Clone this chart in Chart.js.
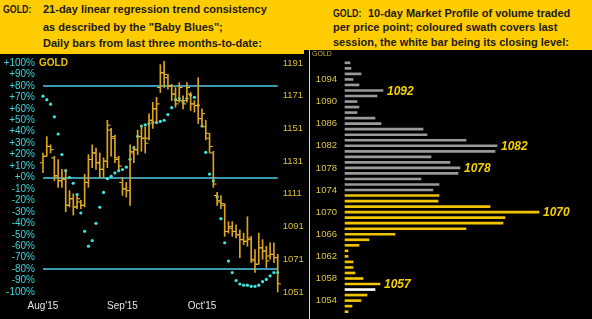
<!DOCTYPE html>
<html>
<head>
<meta charset="utf-8">
<script src="https://cdn.jsdelivr.net/npm/chart.js@4.4.1/dist/chart.umd.min.js"></script>
<style>
  html, body { margin: 0; padding: 0; background: #000; width: 592px; height: 319px; overflow: hidden;
    font-family: "Liberation Sans", Arial, sans-serif; }
  .hdr { position: absolute; background: #ffcc00; }
  .t { position: absolute; font-weight: bold; font-size: 11px; line-height: 12px; color: #1b1b1b; white-space: nowrap; }
  .g { transform: scaleX(0.8); transform-origin: left center; }
  .lbl { position: absolute; white-space: nowrap; }
  canvas { position: absolute; }
</style>
</head>
<body>
<div class="hdr" style="left:0;top:0;width:592px;height:50px"></div>
<div class="hdr" style="left:0;top:50px;width:304px;height:4px"></div>

<div class="t g" style="left:3px;top:3px">GOLD:</div>
<div class="t" style="left:43px;top:3px">21-day linear regression trend consistency</div>
<div class="t" style="left:43px;top:20.5px">as described by the "Baby Blues";</div>
<div class="t" style="left:43px;top:37px">Daily bars from last three months-to-date:</div>

<div class="t g" style="left:333px;top:6.5px">GOLD:</div>
<div class="t" style="left:368px;top:6.5px">10-day Market Profile of volume traded</div>
<div class="t" style="left:333px;top:21px">per price point; coloured swath covers last</div>
<div class="t" style="left:333px;top:35.5px">session, the white bar being its closing level:</div>

<canvas id="left" width="304" height="265" style="left:0;top:54px"></canvas>
<div style="position:absolute;left:309px;top:50px;width:1px;height:269px;background:#d8d8d8"></div>
<canvas id="right" width="282" height="266" style="left:310px;top:53px"></canvas>

<div class="lbl" style="left:39px;top:57px;font-size:10px;font-weight:bold;color:#e8c200">GOLD</div>
<div class="lbl" style="left:312px;top:50px;font-size:7px;color:#c8b040">GOLD</div>

<script>
// left panel: daily bars + Baby Blues
const PCT_TICKS = [100, 90, 80, 70, 60, 50, 40, 30, 20, 10, 0, -10, -20, -30, -40, -50, -60, -70, -80, -90, -100];
const PCT_LEVELS = [80, 0, -80];
const PRICE_TICKS = [1191, 1171, 1151, 1131, 1111, 1091, 1071, 1051];
const MONTH_LABELS = ["Aug'15", "Sep'15", "Oct'15"];
const MONTH_AT = [0, 21, 42];

const HIGH = [1136, 1146, 1141, 1134, 1132, 1126, 1126, 1113, 1111, 1110, 1107, 1123, 1135, 1141, 1139, 1136,
  1133, 1156, 1151, 1147, 1134, 1121, 1118, 1141, 1140, 1150, 1153, 1152, 1160, 1167, 1170, 1190,
  1192, 1184, 1178, 1176, 1179, 1171, 1179, 1173, 1168, 1182, 1163, 1156, 1148, 1137, 1112, 1110,
  1105, 1094, 1094, 1092, 1089, 1087, 1097, 1085, 1077, 1087, 1083, 1079, 1081, 1081, 1074];
const LOW = [1124, 1134, 1136, 1119, 1115, 1115, 1100, 1103, 1098, 1102, 1102, 1103, 1115, 1127, 1126, 1121,
  1121, 1127, 1134, 1130, 1126, 1110, 1109, 1104, 1130, 1135, 1137, 1136, 1144, 1151, 1155, 1173,
  1176, 1175, 1168, 1164, 1167, 1163, 1167, 1162, 1161, 1154, 1152, 1144, 1136, 1115, 1104, 1102,
  1085, 1087, 1085, 1084, 1072, 1080, 1079, 1069, 1063, 1068, 1071, 1066, 1071, 1069, 1051];
const OPEN = [1130, 1134, 1140, 1133, 1122, 1119, 1120, 1104, 1108, 1103, 1106, 1104, 1118, 1132, 1136, 1130,
  1126, 1131, 1150, 1145, 1132, 1118, 1114, 1113, 1136, 1138, 1146, 1145, 1145, 1156, 1163, 1176,
  1185, 1182, 1177, 1172, 1168, 1168, 1168, 1172, 1166, 1165, 1157, 1152, 1145, 1136, 1110, 1106,
  1104, 1088, 1090, 1088, 1086, 1083, 1082, 1083, 1070, 1068, 1078, 1076, 1073, 1074, 1072];
const CLOSE = [1134, 1140, 1138, 1122, 1119, 1120, 1104, 1108, 1103, 1108, 1104, 1118, 1132, 1136, 1130, 1126,
  1131, 1153, 1146, 1133, 1128, 1114, 1113, 1137, 1138, 1146, 1145, 1142, 1156, 1163, 1166, 1185,
  1184, 1177, 1172, 1166, 1176, 1166, 1176, 1166, 1165, 1157, 1160, 1148, 1140, 1117, 1107, 1105,
  1088, 1091, 1088, 1086, 1083, 1082, 1084, 1071, 1068, 1078, 1076, 1070, 1074, 1072, 1056];
const BLUES = [71, 68, 64, 53, 38, 20, 6, 0, -5, -15, -31, -47, -60, -55, -40, -26,
  -13, -1, 1, 4, 6, 7, 9, 16, 26, 36, 45, 46, 47, 48, 48, 49,
  50, 55, 61, 68, 69, 66, 69, 72, 70, 63, 45, 22, 3, -3, -17, -36,
  -57, -73, -83, -90, -93, -94, -94, -95, -95, -94, -91, -89, -86, -83, -83];

// right panel: 10-day market profile
const PROFILE_PRICE = [1097, 1096, 1095, 1094, 1093, 1092, 1091, 1090, 1089, 1088, 1087, 1086, 1085, 1084, 1083,
  1082, 1081, 1080, 1079, 1078, 1077, 1076, 1075, 1074, 1073, 1072, 1071, 1070, 1069, 1068, 1067,
  1066, 1065, 1064, 1063, 1062, 1061, 1060, 1059, 1058, 1057, 1056, 1055, 1054, 1053, 1052];
const PROFILE_VOL = [5, 6, 16, 8, 14, 38, 32, 12, 14, 12, 30, 36, 78, 82, 121,
  152, 150, 86, 105, 115, 113, 76, 94, 88, 94, 93, 145, 194, 160, 158, 121,
  50, 24, 14, 3, 3, 8, 8, 10, 18, 35, 30, 22, 16, 7, 3];
const PROFILE_TICKS = [1094, 1090, 1086, 1082, 1078, 1074, 1070, 1066, 1062, 1058, 1054];
const PEAKS = [1092, 1082, 1078, 1070, 1057];
const SESSION_LOW = 1052, SESSION_HIGH = 1073, CLOSE_LEVEL = 1056;

const FONT = '"Liberation Sans", Arial, sans-serif';
Chart.defaults.font.family = FONT;

// axes keep their fixed sizes, no extra label padding
const fixed = (w, h) => s => {
  if (w !== null) s.width = w;
  if (h !== null) s.height = h;
  s.paddingTop = s.paddingBottom = s.paddingLeft = s.paddingRight = 0;
};

const days = HIGH.map((_, i) => i);

new Chart(document.getElementById('left').getContext('2d'), {
  type: 'bar',
  data: {
    datasets: [
      {
        data: days.map(i => ({ x: i, y: [LOW[i], HIGH[i]] })),
        yAxisID: 'price', backgroundColor: '#dca41e', barThickness: 1, clip: false
      },
      {
        type: 'scatter', data: days.map(i => ({ x: i - 0.42, y: OPEN[i] })),
        yAxisID: 'price', pointStyle: 'line', pointRadius: 1.6, borderColor: '#f2c838', borderWidth: 1, clip: false
      },
      {
        type: 'scatter', data: days.map(i => ({ x: i + 0.42, y: CLOSE[i] })),
        yAxisID: 'price', pointStyle: 'line', pointRadius: 1.6, borderColor: '#f2c838', borderWidth: 1, clip: false
      },
      {
        type: 'scatter', data: days.map(i => ({ x: i, y: BLUES[i] })),
        yAxisID: 'pct', pointRadius: 1.6, backgroundColor: '#3fe6e0', borderWidth: 0, clip: false
      }
    ]
  },
  options: {
    responsive: false, animation: false,
    layout: { padding: { top: 9, left: 0, right: 0, bottom: 0 } },
    plugins: { legend: { display: false }, tooltip: { enabled: false } },
    scales: {
      x: {
        type: 'linear', min: 0, max: 62, offset: false,
        grid: { display: false, drawTicks: false }, border: { display: false },
        afterBuildTicks: s => { s.ticks = MONTH_AT.map(v => ({ value: v })); },
        afterFit: fixed(null, 27),
        ticks: { color: '#e6e6e6', font: { size: 10 }, padding: 8, autoSkip: false, maxRotation: 0,
          callback: v => MONTH_LABELS[MONTH_AT.indexOf(v)] }
      },
      pct: {
        type: 'linear', position: 'left', min: -100, max: 100,
        afterBuildTicks: s => { s.ticks = PCT_TICKS.map(v => ({ value: v })); },
        afterFit: fixed(43, null),
        grid: { drawTicks: false, lineWidth: 2,
          color: c => PCT_LEVELS.includes(c.tick && c.tick.value) ? '#3c98ae' : 'rgba(0,0,0,0)' },
        border: { display: false },
        ticks: { color: '#44d2d6', font: { size: 10 }, padding: 8, autoSkip: false,
          callback: v => (v >= 0 ? '+' : '') + v + '%' }
      },
      price: {
        type: 'linear', position: 'right', min: 1051, max: 1191,
        afterBuildTicks: s => { s.ticks = PRICE_TICKS.map(v => ({ value: v })); },
        afterFit: fixed(26.3, null),
        grid: { display: false, drawTicks: false }, border: { display: false },
        ticks: { color: '#d9bf3a', font: { size: 9.5 }, padding: 5, autoSkip: false, callback: v => String(v) }
      }
    }
  }
});

const peakLabels = {
  id: 'peakLabels',
  afterDatasetsDraw(chart) {
    const { ctx } = chart;
    const meta = chart.getDatasetMeta(0);
    ctx.save();
    ctx.font = 'italic bold 12px ' + FONT;
    ctx.fillStyle = '#f5d000';
    ctx.textBaseline = 'middle';
    PEAKS.forEach(p => {
      const bar = meta.data[PROFILE_PRICE.indexOf(p)];
      ctx.fillText(String(p), bar.x + 4, bar.y + 1);
    });
    ctx.restore();
  }
};

new Chart(document.getElementById('right').getContext('2d'), {
  type: 'bar',
  data: {
    datasets: [{
      data: PROFILE_PRICE.map((p, i) => ({ x: PROFILE_VOL[i], y: p })),
      backgroundColor: PROFILE_PRICE.map(p => p === CLOSE_LEVEL ? '#ffffff'
        : (p >= SESSION_LOW && p <= SESSION_HIGH ? '#f2c400' : '#9a9a9a')),
      barThickness: 2, clip: false
    }]
  },
  options: {
    indexAxis: 'y', responsive: false, animation: false,
    layout: { padding: { top: 4.3, bottom: 1.8, right: 7, left: 0 } },
    plugins: { legend: { display: false }, tooltip: { enabled: false } },
    scales: {
      x: { type: 'linear', display: false, min: 0, max: 240 },
      y: {
        type: 'linear', position: 'left', min: 1051, max: 1098, offset: false,
        grid: { display: false, drawTicks: false }, border: { display: false },
        afterBuildTicks: s => { s.ticks = PROFILE_TICKS.map(v => ({ value: v })); },
        afterFit: fixed(35, null),
        ticks: { color: '#dcc448', font: { size: 9.5 }, padding: 8, autoSkip: false, callback: v => String(v) }
      }
    }
  },
  plugins: [peakLabels]
});
</script>
</body>
</html>
